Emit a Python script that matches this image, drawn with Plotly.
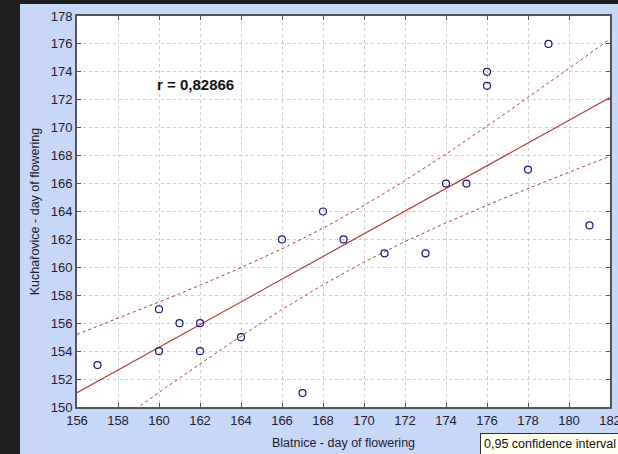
import numpy as np
import plotly.graph_objects as go

# Data
blatnice = [157, 160, 160, 161, 162, 162, 164, 166, 167, 168,
            169, 171, 173, 174, 175, 176, 176, 178, 179, 181]
kucharovice = [153, 157, 154, 156, 156, 154, 155, 162, 151, 164,
               162, 161, 161, 166, 166, 174, 173, 167, 176, 163]
x_ticks = list(range(156, 183, 2))
y_ticks = list(range(150, 179, 2))
r_label = "r = 0,82866"
ci_label = "0,95 confidence interval"

x = np.array(blatnice, dtype=float)
y = np.array(kucharovice, dtype=float)
n = len(x)
b, a = np.polyfit(x, y, 1)
resid = y - (a + b * x)
s = np.sqrt(np.sum(resid ** 2) / (n - 2))
t_crit = 2.1009  # t(0.975, 18)
xx = np.linspace(156, 182, 200)
yy = a + b * xx
se = s * np.sqrt(1 / n + (xx - x.mean()) ** 2 / np.sum((x - x.mean()) ** 2))
upper = yy + t_crit * se
lower = yy - t_crit * se

red = "#b53a3a"
fig = go.Figure()
fig.add_trace(go.Scatter(x=xx, y=upper, mode="lines",
                         line=dict(color=red, width=1, dash="3px,3px"), hoverinfo="skip"))
fig.add_trace(go.Scatter(x=xx, y=lower, mode="lines",
                         line=dict(color=red, width=1, dash="3px,3px"), hoverinfo="skip"))
fig.add_trace(go.Scatter(x=xx, y=yy, mode="lines",
                         line=dict(color=red, width=1.2), hoverinfo="skip"))
fig.add_trace(go.Scatter(x=blatnice, y=kucharovice, mode="markers",
                         marker=dict(symbol="circle-open", size=7, color="#1a1a80",
                                     line=dict(width=1.2, color="#1a1a80"))))

font_fam = "Liberation Sans, Arial"
axis_common = dict(
    showgrid=True, gridcolor="#cccccc", griddash="dot", gridwidth=1,
    showline=True, linecolor="#555555", linewidth=2, mirror="ticks",
    ticks="inside", ticklen=4, tickcolor="#555555", automargin=False,
    ticklabeloverflow="allow",
    tickfont=dict(family=font_fam, size=13, color="#1e2030"),
    zeroline=False,
)

fig.update_xaxes(range=[156, 182], tickvals=x_ticks, **axis_common,
                 title=dict(text="Blatnice - day of flowering", standoff=12,
                            font=dict(family=font_fam, size=12.5, color="#1e2030")))
fig.update_yaxes(range=[150, 178], tickvals=y_ticks, **axis_common,
                 title=dict(text="Kuchařovice - day of flowering", standoff=8,
                            font=dict(family=font_fam, size=12.5, color="#1e2030")))

W, H = 618, 454
ml, mr, mt, mb = 77, 8, 16, 47
pw, ph = W - ml - mr, H - mt - mb
dark = "#1e1e1e"
fig.add_shape(type="rect", xref="paper", yref="paper",
              x0=-ml / pw, x1=(20 - ml) / pw, y0=-mb / ph, y1=1 + mt / ph,
              fillcolor=dark, line_width=0)
fig.add_shape(type="rect", xref="paper", yref="paper",
              x0=-ml / pw, x1=1 + mr / pw, y0=1 + (mt - 4) / ph, y1=1 + mt / ph,
              fillcolor=dark, line_width=0)

fig.add_annotation(x=161.8, y=173.1, xref="x", yref="y", text="<b>" + r_label + "</b>",
                   showarrow=False, font=dict(family=font_fam, size=15, color="#111111"))
fig.add_annotation(x=(480 - ml) / pw, y=-(433 - mt - ph) / ph, xref="paper", yref="paper",
                   xanchor="left", yanchor="top", text=ci_label, showarrow=False,
                   bgcolor="#fffff2", bordercolor="#333333", borderwidth=1, borderpad=3,
                   font=dict(family=font_fam, size=12.5, color="#111111"))

fig.update_layout(
    width=W, height=H, margin=dict(l=ml, r=mr, t=mt, b=mb, autoexpand=False),
    paper_bgcolor="#c7d7f7", plot_bgcolor="#ffffff",
    showlegend=False,
)
fig.write_html("out.html", config={"displayModeBar": False},
               post_script="document.body.style.margin='0';document.body.style.overflow='hidden';")
